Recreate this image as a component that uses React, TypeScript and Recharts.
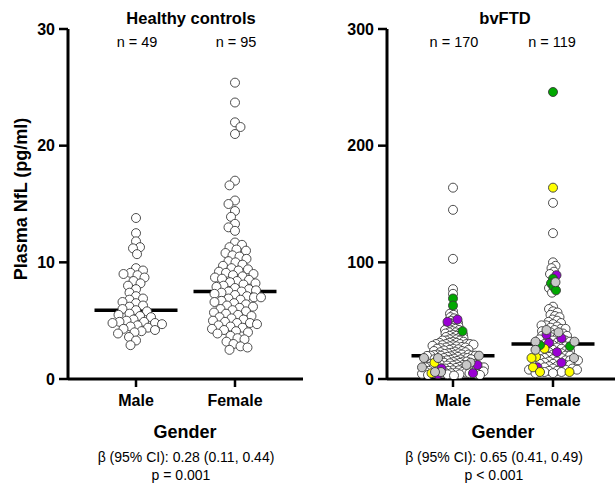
import React from "react";
import { ScatterChart, Scatter, XAxis, YAxis } from "recharts";

const FONT = "'Liberation Sans', Arial, sans-serif";

const groups = ["Male", "Female"];

// Healthy controls, plasma NfL (pg/ml)
const hcMale = [
  13.8, 12.5, 11.8, 11.3, 11.2, 10.7,
  9.5, 9.3, 9.1, 9.0, 8.9, 8.7, 8.4, 8.2, 8.0, 7.7, 7.4, 7.1, 6.9, 6.8, 6.6, 6.5,
  6.3, 6.2, 6.0, 5.9, 5.8, 5.6, 5.5, 5.4, 5.3,
  5.1, 5.0, 4.9, 4.9, 4.8, 4.8, 4.7, 4.6, 4.5, 4.4, 4.3, 4.2, 4.1, 4.0, 3.9,
  3.6, 3.3, 2.9,
];
const hcFemale = [
  25.4, 23.7, 22.0, 21.6, 21.0, 17.0, 16.6, 15.3, 15.0, 14.4, 13.9, 13.3, 13.0, 12.7,
  11.7, 11.5, 11.3, 11.1, 11.0,
  10.8, 10.6, 10.5, 10.3, 10.1, 10.0, 9.8, 9.7, 9.5, 9.4, 9.3, 9.2, 9.1, 9.0,
  8.9, 8.8, 8.7, 8.6, 8.5, 8.4, 8.3, 8.2, 8.1, 8.0, 7.9, 7.8, 7.7, 7.6, 7.5,
  7.5, 7.4, 7.3, 7.2, 7.1, 7.0, 7.0, 6.9, 6.8, 6.7, 6.6,
  6.5, 6.4, 6.3, 6.2, 6.1, 6.0, 5.9, 5.8, 5.7, 5.6,
  5.5, 5.4, 5.3, 5.2, 5.1, 5.0, 4.9, 4.8, 4.8, 4.7, 4.6,
  4.5, 4.4, 4.3, 4.2, 4.1, 4.0, 3.9,
  3.7, 3.5, 3.4, 3.2, 3.0, 2.8, 2.7, 2.5,
];
const hcMedians = [5.9, 7.5];

// bvFTD, male
const ftdMaleWhite = [
  164, 145, 103, 77, 73,
  58, 56, 55, 53, 52, 50, 49, 48, 47, 46, 46, 45, 44, 43, 43, 42, 42, 41, 40, 40,
  39, 39, 38, 38, 37, 37, 36, 36, 35, 35, 34, 34, 33, 33, 33, 32, 32, 31, 31, 31, 30, 30, 30, 30, 30,
  29.5, 29, 29, 28.5, 28, 28, 27.5, 27, 27, 26.5, 26, 26, 25.5, 25, 25, 24.5, 24, 24, 23.5, 23, 23,
  22.5, 22, 22, 21.5, 21, 21, 21, 20.5, 20.5, 20, 20, 20, 20,
  19.8, 19.5, 19, 19, 18.5, 18, 18, 17.5, 17, 17, 16.8, 16.5, 16, 16, 15.5, 15, 15, 14.5, 14, 14,
  13.8, 13.5, 13, 13, 12.5, 12, 12, 11.5, 11.5, 11, 11, 11, 10.5, 10.5, 10, 10, 10, 10,
  9.5, 9.5, 9, 9, 8.5, 8.5, 8, 8, 8, 7.5, 7.5, 7, 7, 7, 6.5, 6.5, 6, 6, 5.5, 5.5, 5, 5, 4.5, 4.5,
  4, 4, 3.5, 3.5, 3,
];
const ftdMaleGrey = [20, 18, 18, 14, 12, 10, 6, 6];
const ftdMalePurple = [51, 49, 12, 9, 5, 4];
const ftdMaleGreen = [69, 63, 41];
const ftdMaleYellow = [14, 5];

// bvFTD, female
const ftdFemaleWhite = [
  151, 125, 100, 97, 95, 92, 90, 78, 74,
  62, 60, 58, 57, 55, 54, 53, 51, 50,
  49, 48, 47, 46, 46, 45, 44, 43, 43, 42, 41, 40,
  39, 38, 37, 37, 36, 35, 34, 34, 33, 33, 32, 31, 30,
  30, 29, 28, 27, 27, 26, 25, 25, 24, 24, 23, 22, 22, 21, 21, 20, 20, 19, 19, 18, 18, 17, 17,
  16, 16, 16, 15, 15,
  14, 13, 13, 12, 12, 11, 11, 10, 10, 9, 9, 8, 8, 8, 7, 7, 6, 6, 5, 5,
];
const ftdFemaleGrey = [83, 42, 40, 32, 32, 25, 18];
const ftdFemalePurple = [89, 38, 35, 31, 23, 14, 10];
const ftdFemaleGreen = [246, 86, 82, 79, 76, 29, 28];
const ftdFemaleYellow = [164, 26, 19, 18, 10, 6, 6];
const ftdMedians = [20, 30];

const COLORS: Record<string, string> = {
  purple: "#9a00d4",
  yellow: "#ffff00",
  green: "#00a800",
  white: "#ffffff",
  grey: "#c8c8c8",
};
const DRAW_ORDER = ["white", "purple", "yellow", "green", "grey"];

type Pt = { v: number; c: string };
type Placed = Pt & { off: number };

// simple beeswarm: each point takes the free offset closest to the centre
function swarm(points: Pt[], pxPerValue: number, d: number): Placed[] {
  const sorted = [...points].sort((a, b) => b.v - a.v);
  const placed: { x: number; y: number }[] = [];
  return sorted.map((p, i) => {
    const y = p.v * pxPerValue;
    let off = 0;
    for (let k = 0; k < 600; k++) {
      const step = Math.ceil(k / 2) * 0.5;
      const cand = k === 0 ? 0 : k % 2 === i % 2 ? step : -step;
      const hit = placed.some(
        (q) => (q.x - cand) ** 2 + (q.y - y) ** 2 < d * d - 1e-6
      );
      if (!hit) {
        off = cand;
        break;
      }
    }
    placed.push({ x: off, y });
    return { ...p, off };
  });
}

function toSeries(groupPts: Placed[][], pxPerUnit: number) {
  const out: Record<string, { x: number; y: number }[]> = {};
  DRAW_ORDER.forEach((c) => (out[c] = []));
  groupPts.forEach((pts, gi) =>
    pts.forEach((p) => out[p.c].push({ x: gi + p.off / pxPerUnit, y: p.v }))
  );
  return out;
}

const tag = (vals: number[], c: string) => vals.map((v) => ({ v, c }));

const PLOT_H = 350;

const hcSeries = toSeries(
  [
    swarm(tag(hcMale, "white"), PLOT_H / 30, 7),
    swarm(tag(hcFemale, "white"), PLOT_H / 30, 7),
  ],
  99
);

const ftdSeries = toSeries(
  [
    swarm(
      [
        ...tag(ftdMaleWhite, "white"),
        ...tag(ftdMaleGrey, "grey"),
        ...tag(ftdMalePurple, "purple"),
        ...tag(ftdMaleGreen, "green"),
        ...tag(ftdMaleYellow, "yellow"),
      ],
      PLOT_H / 300,
      3.5
    ),
    swarm(
      [
        ...tag(ftdFemaleWhite, "white"),
        ...tag(ftdFemaleGrey, "grey"),
        ...tag(ftdFemalePurple, "purple"),
        ...tag(ftdFemaleGreen, "green"),
        ...tag(ftdFemaleYellow, "yellow"),
      ],
      PLOT_H / 300,
      4.3
    ),
  ],
  100
);

const dot = (fill: string, r: number) => (props: any) =>
  (
    <circle
      cx={props.cx}
      cy={props.cy}
      r={r}
      fill={fill}
      stroke="#3a3a3a"
      strokeWidth={0.9}
    />
  );

const medianBar = (props: any) => (
  <line
    x1={props.cx - 41.5}
    x2={props.cx + 41.5}
    y1={props.cy}
    y2={props.cy}
    stroke="#000"
    strokeWidth={3.5}
  />
);

const tickStyle = { fill: "#000", fontSize: 16, fontWeight: 700, fontFamily: FONT };

type PanelProps = {
  width: number;
  marginLeft: number;
  marginRight: number;
  yWidth: number;
  xDomain: [number, number];
  yMax: number;
  yTicks: number[];
  series: Record<string, { x: number; y: number }[]>;
  medians: number[];
  r: number;
};

function Panel(p: PanelProps) {
  return (
    <ScatterChart
      width={p.width}
      height={498}
      margin={{ top: 29, right: p.marginRight, bottom: 89, left: p.marginLeft }}
    >
      <XAxis
        type="number"
        dataKey="x"
        domain={p.xDomain}
        ticks={[0, 1]}
        tickFormatter={(v: number) => groups[v] ?? ""}
        axisLine={{ stroke: "#000", strokeWidth: 3 }}
        tickLine={{ stroke: "#000", strokeWidth: 2.5 }}
        tickSize={8}
        tickMargin={8}
        tick={tickStyle}
        height={30}
        allowDataOverflow
      />
      <YAxis
        type="number"
        dataKey="y"
        domain={[0, p.yMax]}
        ticks={p.yTicks}
        axisLine={{ stroke: "#000", strokeWidth: 3 }}
        tickLine={{ stroke: "#000", strokeWidth: 2.5 }}
        tickSize={9}
        tickMargin={4}
        tick={tickStyle}
        width={p.yWidth}
        allowDataOverflow
      />
      <Scatter
        data={p.medians.map((m, i) => ({ x: i, y: m }))}
        shape={medianBar}
        isAnimationActive={false}
      />
      {DRAW_ORDER.map((c) => (
        <Scatter
          key={c}
          data={p.series[c]}
          shape={dot(COLORS[c], p.r)}
          isAnimationActive={false}
        />
      ))}
    </ScatterChart>
  );
}

export default function App() {
  const txt = { fontFamily: FONT, fill: "#000" };
  return (
    <div
      style={{
        position: "absolute",
        left: 0,
        top: 0,
        width: 615,
        height: 498,
        background: "#fff",
      }}
    >
      <div style={{ position: "absolute", left: 0, top: 0 }}>
        <Panel
          width={310}
          marginLeft={28}
          marginRight={7}
          yWidth={40}
          xDomain={[-0.687, 1.687]}
          yMax={30}
          yTicks={[0, 10, 20, 30]}
          series={hcSeries}
          medians={hcMedians}
          r={4.5}
        />
      </div>
      <div style={{ position: "absolute", left: 310, top: 0 }}>
        <Panel
          width={305}
          marginLeft={27}
          marginRight={0}
          yWidth={50}
          xDomain={[-0.66, 1.62]}
          yMax={300}
          yTicks={[0, 100, 200, 300]}
          series={ftdSeries}
          medians={ftdMedians}
          r={4.5}
        />
      </div>
      <svg
        width={615}
        height={498}
        style={{ position: "absolute", left: 0, top: 0, pointerEvents: "none" }}
      >
        <text {...txt} x={191} y={24} textAnchor="middle" fontSize={16.5} fontWeight={700}>
          Healthy controls
        </text>
        <text {...txt} x={505} y={24} textAnchor="middle" fontSize={16.5} fontWeight={700}>
          bvFTD
        </text>
        <text {...txt} x={137} y={47} textAnchor="middle" fontSize={14.5}>n = 49</text>
        <text {...txt} x={236} y={47} textAnchor="middle" fontSize={14.5}>n = 95</text>
        <text {...txt} x={454} y={47} textAnchor="middle" fontSize={14.5}>n = 170</text>
        <text {...txt} x={552} y={47} textAnchor="middle" fontSize={14.5}>n = 119</text>
        <text
          {...txt}
          x={0}
          y={0}
          transform="translate(27,199) rotate(-90)"
          textAnchor="middle"
          fontSize={18}
          fontWeight={700}
        >
          Plasma NfL (pg/ml)
        </text>
        <text {...txt} x={185} y={438} textAnchor="middle" fontSize={18} fontWeight={700}>
          Gender
        </text>
        <text {...txt} x={503} y={438} textAnchor="middle" fontSize={18} fontWeight={700}>
          Gender
        </text>
        <text {...txt} x={186} y={462} textAnchor="middle" fontSize={14}>
          β (95% CI): 0.28 (0.11, 0.44)
        </text>
        <text {...txt} x={181} y={480} textAnchor="middle" fontSize={14}>
          p = 0.001
        </text>
        <text {...txt} x={494} y={462} textAnchor="middle" fontSize={14}>
          β (95% CI): 0.65 (0.41, 0.49)
        </text>
        <text {...txt} x={494} y={480} textAnchor="middle" fontSize={14}>
          p &lt; 0.001
        </text>
      </svg>
    </div>
  );
}
